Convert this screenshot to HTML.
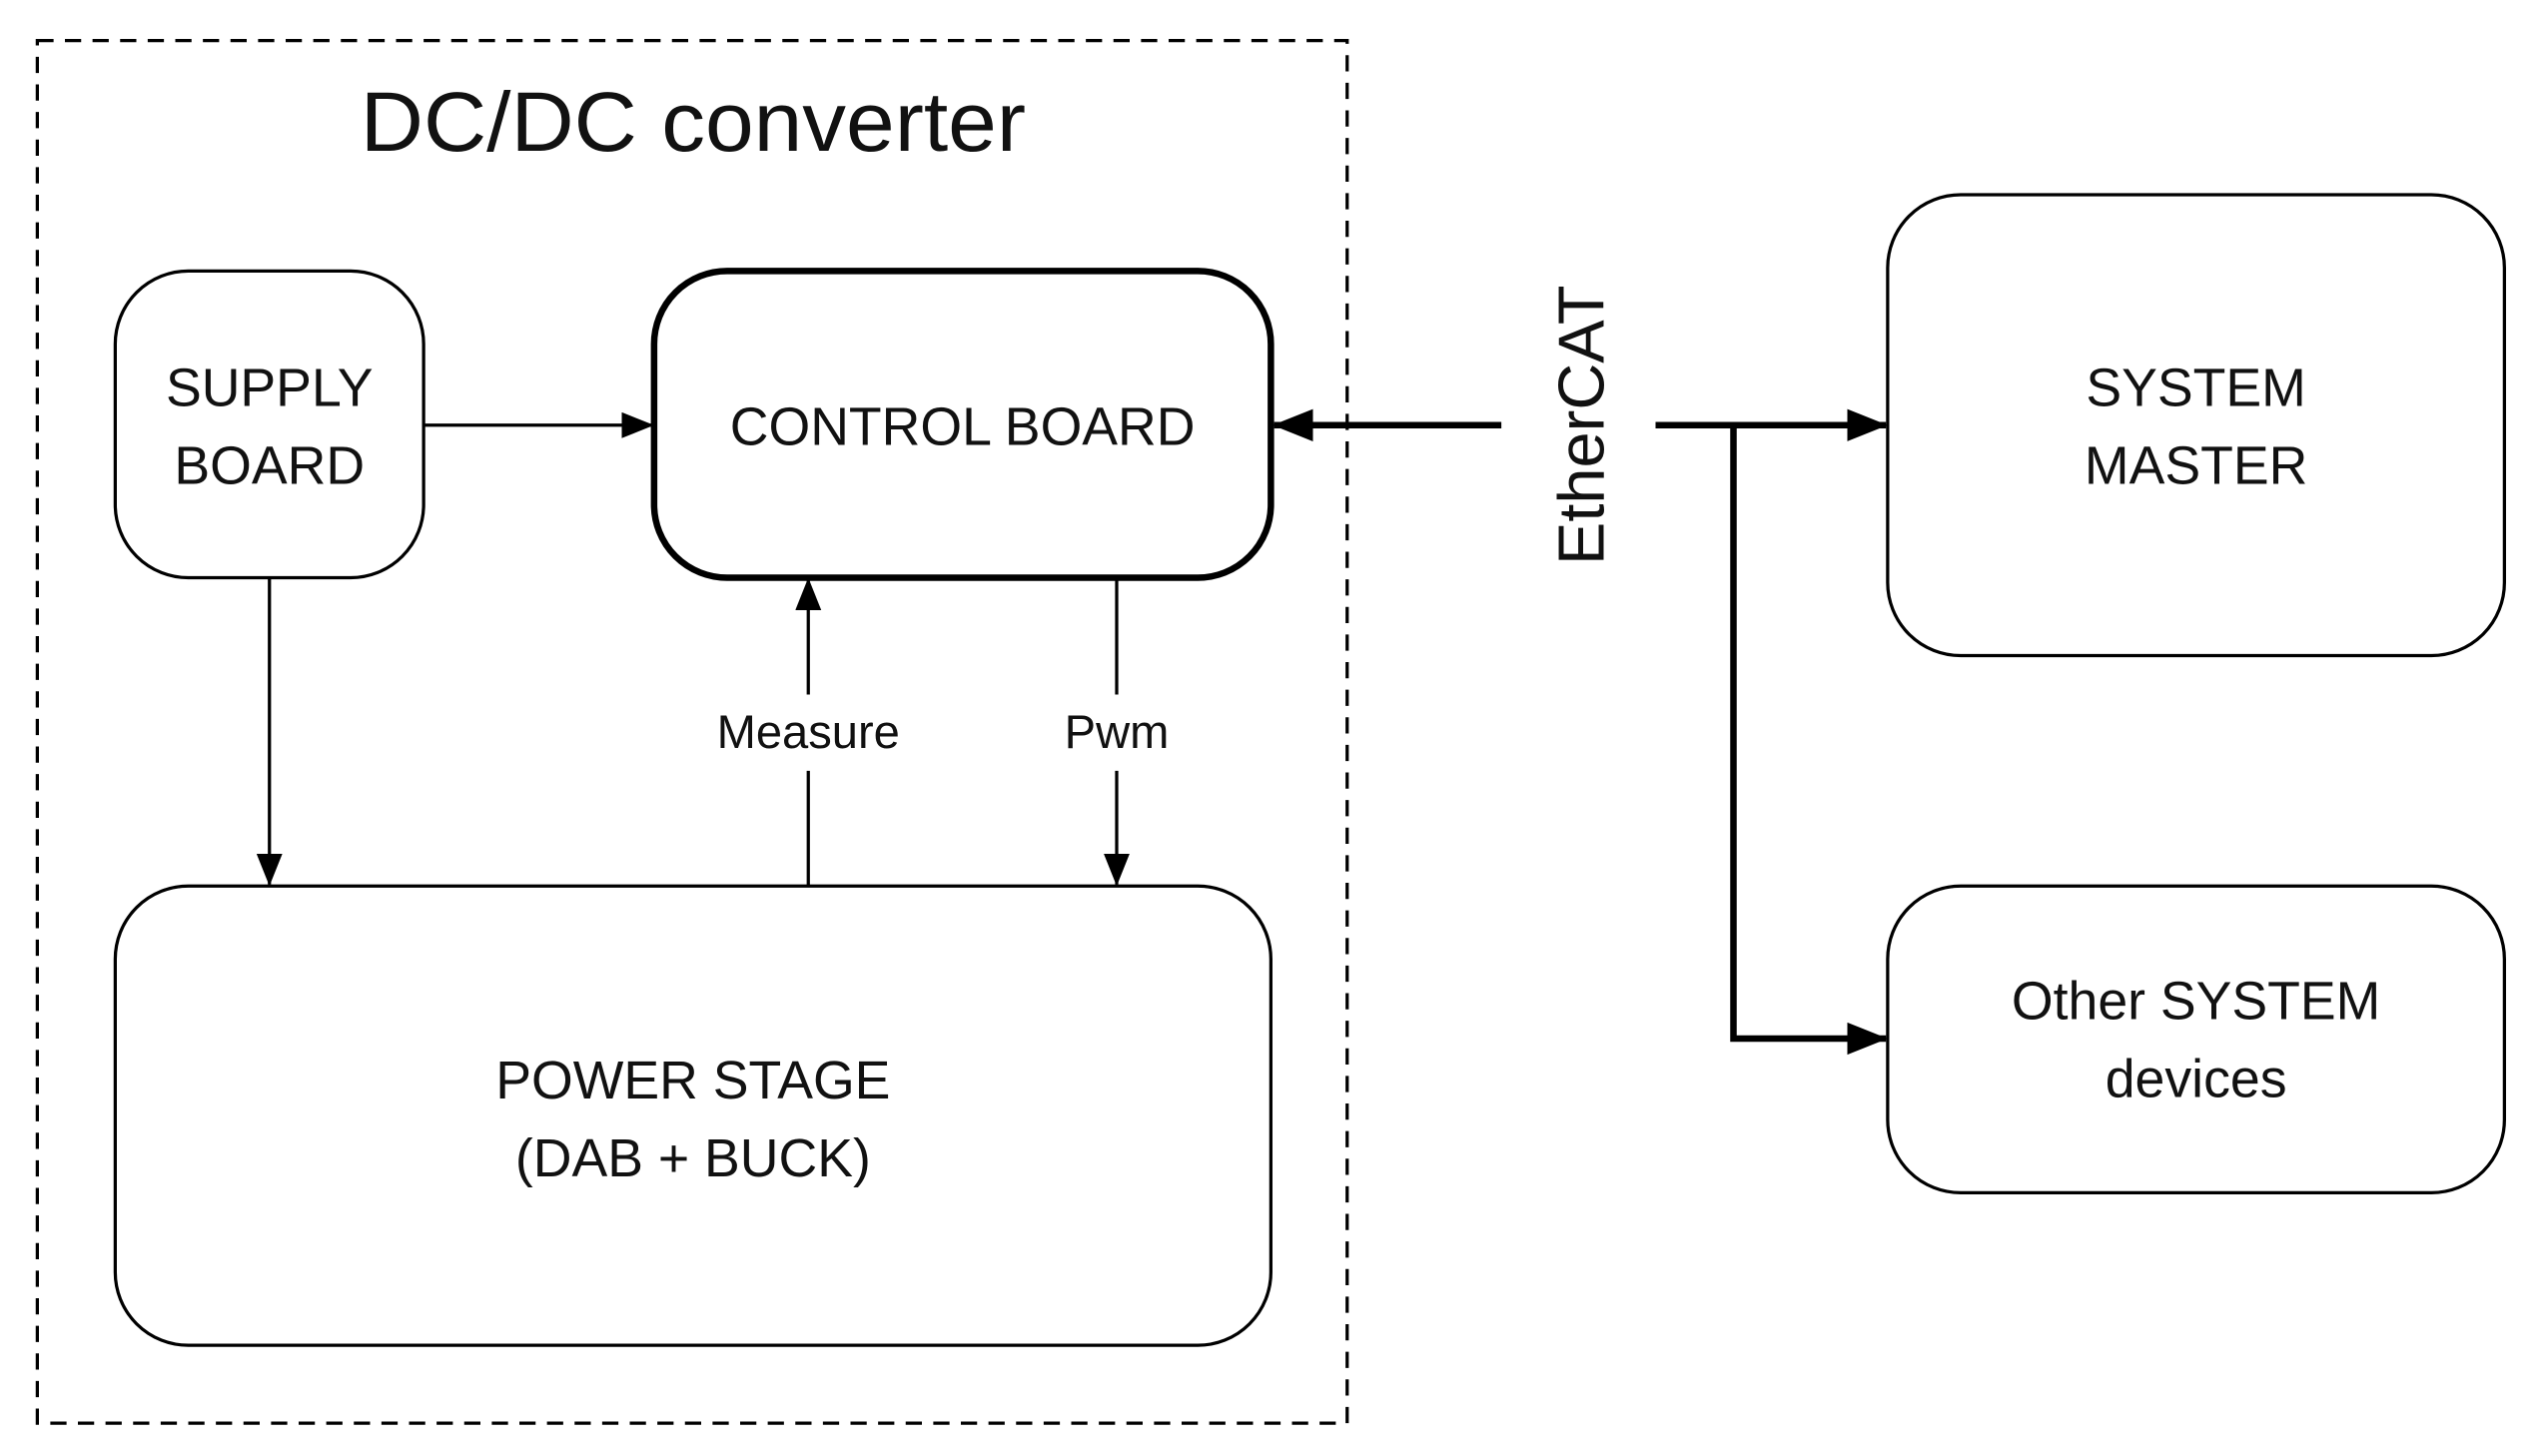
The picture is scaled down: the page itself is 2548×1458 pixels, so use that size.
<!DOCTYPE html>
<html><head><meta charset="utf-8"><style>
html,body{margin:0;padding:0;background:#fff;}
svg{display:block;}
text{font-family:"Liberation Sans",sans-serif;fill:#111;}
</style></head><body>
<svg width="2548" height="1458" viewBox="0 0 1568 897.2" xmlns="http://www.w3.org/2000/svg">
<defs>
<marker id="b" markerWidth="26" markerHeight="20" refX="24" refY="10" orient="auto" markerUnits="userSpaceOnUse"><path d="M0,0 L25,10 L0,20 Z" fill="#000"/></marker>
<marker id="s" markerWidth="20" markerHeight="16" refX="19" refY="8" orient="auto" markerUnits="userSpaceOnUse"><path d="M0,0 L20,8 L0,16 Z" fill="#000"/></marker>
</defs>
<rect x="23" y="25" width="807" height="852" fill="none" stroke="#000" stroke-width="2" stroke-dasharray="10,7"/>
<text x="427" y="93" font-size="52" text-anchor="middle" textLength="410" lengthAdjust="spacingAndGlyphs">DC/DC converter</text>

<rect x="71" y="167" width="190" height="189" rx="45" fill="none" stroke="#000" stroke-width="2"/>
<text x="166" y="250" font-size="33" text-anchor="middle">SUPPLY</text>
<text x="166" y="298" font-size="33" text-anchor="middle">BOARD</text>

<rect x="403" y="167" width="380" height="189" rx="45" fill="none" stroke="#000" stroke-width="4"/>
<text x="593" y="274" font-size="33" text-anchor="middle">CONTROL BOARD</text>

<rect x="71" y="546" width="712" height="283" rx="45" fill="none" stroke="#000" stroke-width="2"/>
<text x="427" y="677" font-size="33" text-anchor="middle">POWER STAGE</text>
<text x="427" y="725" font-size="33" text-anchor="middle">(DAB + BUCK)</text>

<line x1="261" y1="262" x2="402" y2="262" stroke="#000" stroke-width="2" marker-end="url(#s)"/>
<line x1="166" y1="356" x2="166" y2="545" stroke="#000" stroke-width="2" marker-end="url(#s)"/>
<line x1="498" y1="546" x2="498" y2="475" stroke="#000" stroke-width="2"/>
<line x1="498" y1="428" x2="498" y2="357" stroke="#000" stroke-width="2" marker-end="url(#s)"/>
<text x="498" y="461" font-size="29" text-anchor="middle">Measure</text>
<line x1="688" y1="356" x2="688" y2="428" stroke="#000" stroke-width="2"/>
<line x1="688" y1="475" x2="688" y2="545" stroke="#000" stroke-width="2" marker-end="url(#s)"/>
<text x="688" y="461" font-size="29" text-anchor="middle">Pwm</text>

<text transform="translate(988,262) rotate(-90)" font-size="40" text-anchor="middle">EtherCAT</text>
<line x1="925" y1="262" x2="785" y2="262" stroke="#000" stroke-width="4" marker-end="url(#b)"/>
<line x1="1020" y1="262" x2="1162" y2="262" stroke="#000" stroke-width="4" marker-end="url(#b)"/>
<polyline points="1068,262 1068,640 1162,640" fill="none" stroke="#000" stroke-width="4" marker-end="url(#b)"/>

<rect x="1163" y="120" width="380" height="284" rx="45" fill="none" stroke="#000" stroke-width="2"/>
<text x="1353" y="250" font-size="33" text-anchor="middle">SYSTEM</text>
<text x="1353" y="298" font-size="33" text-anchor="middle">MASTER</text>

<rect x="1163" y="546" width="380" height="189" rx="45" fill="none" stroke="#000" stroke-width="2"/>
<text x="1353" y="628" font-size="33" text-anchor="middle">Other SYSTEM</text>
<text x="1353" y="676" font-size="33" text-anchor="middle">devices</text>
</svg>
</body></html>
